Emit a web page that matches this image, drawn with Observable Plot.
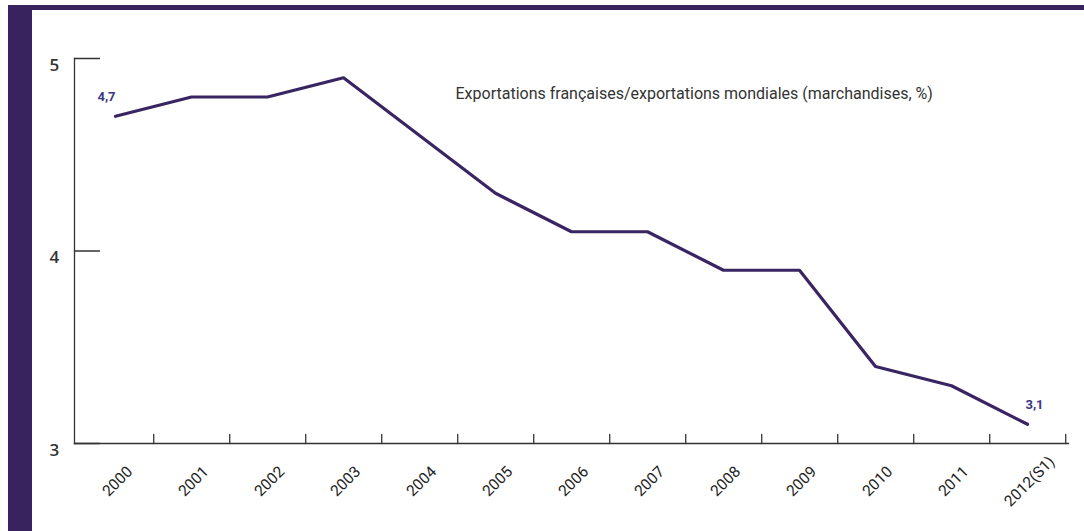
<!DOCTYPE html>
<html>
<head>
<meta charset="utf-8">
<script src="https://cdn.jsdelivr.net/npm/d3@7"></script>
<script src="https://cdn.jsdelivr.net/npm/@observablehq/plot@0.6"></script>
<style>
  html, body { margin: 0; padding: 0; background: #fff; }
  #wrap { position: relative; width: 1084px; height: 531px; overflow: hidden; }
  #band { position: absolute; left: 8px; top: 5px; right: 0; bottom: 0; box-sizing: border-box;
          border-top: 5px solid #38235f; border-left: 24px solid #38235f; }
  #chart { position: absolute; left: 0; top: 0; }
</style>
</head>
<body>
<div id="wrap"><div id="band"></div><div id="chart"></div></div>
<script>
const years = ["2000","2001","2002","2003","2004","2005","2006","2007","2008","2009","2010","2011","2012(S1)"];
const shares = [4.7, 4.8, 4.8, 4.9, 4.6, 4.3, 4.1, 4.1, 3.9, 3.9, 3.4, 3.3, 3.1];
const yTicks = [3, 4, 5];
const valueLabels = ["4,7", "3,1"];
const note = "Exportations françaises/exportations mondiales (marchandises, %)";

const data = years.map((y, i) => ({year: y, v: shares[i]}));
const firstLabel = [{year: years[0], v: shares[0], t: valueLabels[0]}];
const lastLabel = [{year: years[years.length - 1], v: shares[shares.length - 1], t: valueLabels[1]}];

const W = 1084, H = 531, ML = 74, MR = 16, MT = 58, MB = 88;
const step = (W - ML - MR) / years.length;
const axisColor = "#333";
const lineColor = "#3a2563";
const labelColor = "#3b3680";
const segment = {draw(ctx, l) { ctx.moveTo(0, 0); ctx.lineTo(0, -l); }};

const chart = Plot.plot({
  width: W, height: H,
  marginLeft: ML, marginRight: MR, marginTop: MT, marginBottom: MB,
  style: {background: "transparent", fontFamily: "Roboto, sans-serif"},
  x: {type: "point", domain: years, padding: 0.5, axis: null},
  y: {domain: [3, 5], axis: null},
  marks: [
    Plot.frame({anchor: "left", stroke: axisColor, strokeWidth: 1.3}),
    Plot.frame({anchor: "bottom", stroke: axisColor, strokeWidth: 1.3}),
    Plot.vector(years, {x: d => d, y: () => 3, dx: step / 2, length: 9, anchor: "start",
      shape: segment, stroke: axisColor, strokeWidth: 1.3}),
    Plot.vector(yTicks, {y: d => d, frameAnchor: "left", rotate: 90, length: 25, anchor: "start",
      shape: segment, stroke: axisColor, strokeWidth: 1.3}),
    Plot.text(yTicks, {y: d => d, frameAnchor: "left", dx: -25, dy: 7, text: d => String(d),
      fontSize: 17, fontWeight: 600, fill: "#333", fontFamily: "'Open Sans', sans-serif"}),
    Plot.text(years, {x: d => d, y: () => 3, dx: 2, dy: 38, rotate: -45, text: d => d,
      fontSize: 15.5, fill: "#222", fontFamily: "Roboto, sans-serif"}),
    Plot.line(data, {x: "year", y: "v", stroke: lineColor, strokeWidth: 3.2}),
    Plot.text(firstLabel, {x: "year", y: "v", text: "t", dx: -9, dy: -19,
      fill: labelColor, fontSize: 13, fontWeight: "bold", fontFamily: "Roboto, sans-serif"}),
    Plot.text(lastLabel, {x: "year", y: "v", text: "t", dx: 7, dy: -19,
      fill: labelColor, fontSize: 13, fontWeight: "bold", fontFamily: "Roboto, sans-serif"}),
    Plot.text([note], {frameAnchor: "top-left", dx: 381, dy: 29, text: d => d, textAnchor: "start",
      fontSize: 16, fill: "#333", fontFamily: "Roboto, sans-serif"})
  ]
});
document.getElementById("chart").appendChild(chart);
</script>
</body>
</html>
